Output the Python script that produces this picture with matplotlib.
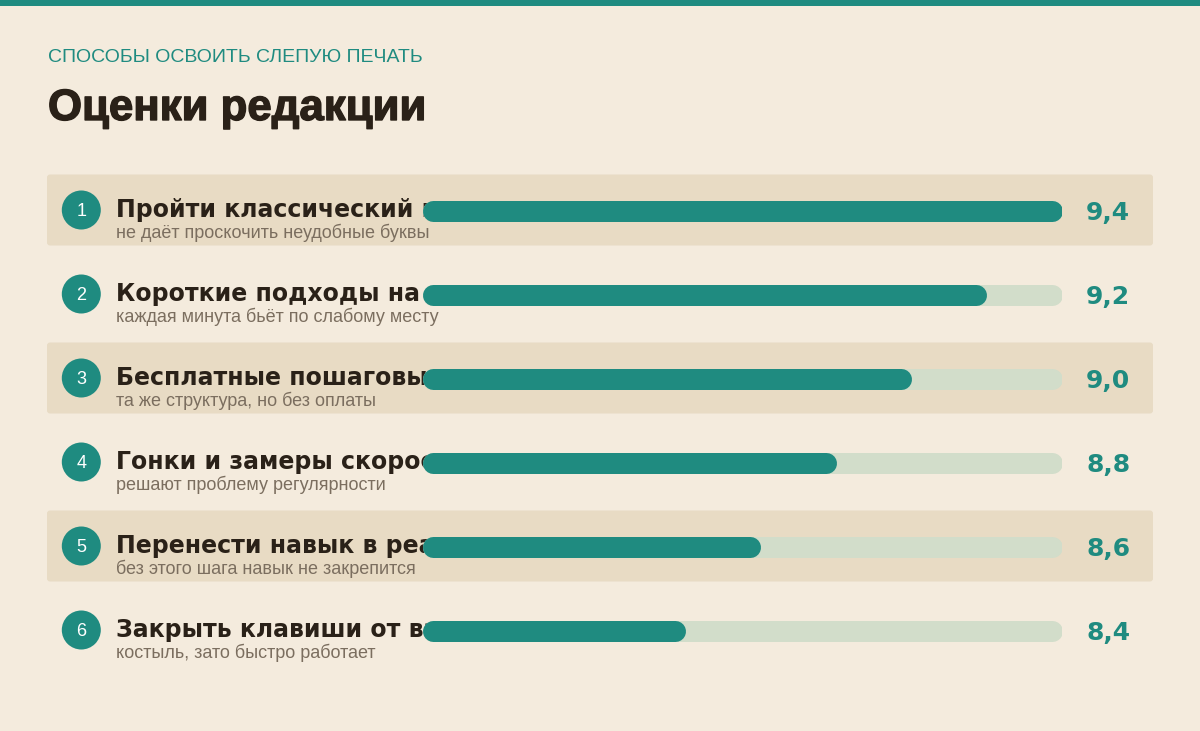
import matplotlib
matplotlib.use("Agg")
import matplotlib.pyplot as plt
import matplotlib.patheffects as pe
from matplotlib.patches import Circle, FancyBboxPatch, Rectangle

# ---- data ----
kicker = "СПОСОБЫ ОСВОИТЬ СЛЕПУЮ ПЕЧАТЬ"
headline = "Оценки редакции"
titles = [
    "Пройти классический курс по урокам",
    "Короткие подходы на время по утрам",
    "Бесплатные пошаговые уроки в сети",
    "Гонки и замеры скорости",
    "Перенести навык в реальную переписку",
    "Закрыть клавиши от взгляда",
]
notes = [
    "не даёт проскочить неудобные буквы",
    "каждая минута бьёт по слабому месту",
    "та же структура, но без оплаты",
    "решают проблему регулярности",
    "без этого шага навык не закрепится",
    "костыль, зато быстро работает",
]
scores = [9.4, 9.2, 9.0, 8.8, 8.6, 8.4]
scale_min, scale_max = 7.7, 9.4

# ---- style ----
BG = "#f4ebdd"
BAND = "#e8dbc4"
TEAL = "#1f8b80"
TRACK = "#d2ddca"
INK = "#2a2118"
MUTED = "#7b6e5f"

W, H = 1200, 731
fig = plt.figure(figsize=(W / 100, H / 100), dpi=100, facecolor=BG)

bg = fig.add_axes([0, 0, 1, 1])
bg.set_xlim(0, W)
bg.set_ylim(H, 0)
bg.axis("off")
bg.set_zorder(1)
bg.patch.set_visible(False)

# top stripe
bg.add_patch(Rectangle((0, 0), W, 6, color=TEAL, lw=0))

bg.text(48, 62, kicker, fontsize=14, color=TEAL, family="Liberation Sans",
        va="baseline", ha="left")
bg.text(48, 120, headline, fontsize=31.5, color=INK, family="Liberation Sans",
        fontweight="bold", va="baseline", ha="left",
        path_effects=[pe.withStroke(linewidth=1.0, foreground=INK)])

row0, pitch = 168, 84
for i, (t, n) in enumerate(zip(titles, notes)):
    cy = row0 + pitch * i + 42
    if i % 2 == 0:
        bg.add_patch(FancyBboxPatch((47, cy - 35.5), 1106, 71,
                                    boxstyle="round,pad=0,rounding_size=3",
                                    fc=BAND, ec="none"))
    bg.add_patch(Circle((81.3, cy), 19.5, color=TEAL, lw=0))
    bg.text(81.3, cy + 1, str(i + 1), fontsize=13, color="white",
            family="Liberation Sans", ha="center", va="center")
    bg.text(116, cy + 7, t, fontsize=17, color=INK, family="DejaVu Sans",
            fontweight="bold", ha="left", va="baseline")
    bg.text(116, cy + 28, n, fontsize=13, color=MUTED, family="Liberation Sans",
            ha="left", va="baseline")

# ---- bars ----
ax = fig.add_axes([422 / W, 1 - (row0 + 6 * pitch) / H, 640 / W, 6 * pitch / H])
ax.set_zorder(2)
ax.patch.set_visible(False)
ax.set_xlim(scale_min, scale_max)
ax.set_ylim(6, 0)
ax.axis("off")

bar_px = 21
lw_pt = bar_px * 72 / 100
r = (bar_px / 2) * (scale_max - scale_min) / 640
for i, v in enumerate(scores):
    y = i + 0.5 + 0.012
    ax.plot([scale_min + r, scale_max - r], [y, y], color=TRACK, lw=lw_pt,
            solid_capstyle="round")
    ax.plot([scale_min + r, v - r], [y, y], color=TEAL, lw=lw_pt,
            solid_capstyle="round")
    ax.annotate(f"{v:.1f}".replace(".", ","), xy=(1, y),
                xycoords=("axes fraction", "data"),
                xytext=(24 * 72 / 100, -1.5), textcoords="offset points",
                fontsize=18, fontweight="bold", color=TEAL, family="DejaVu Sans",
                ha="left", va="center")

fig.savefig("out.png", dpi=100, facecolor=BG)
